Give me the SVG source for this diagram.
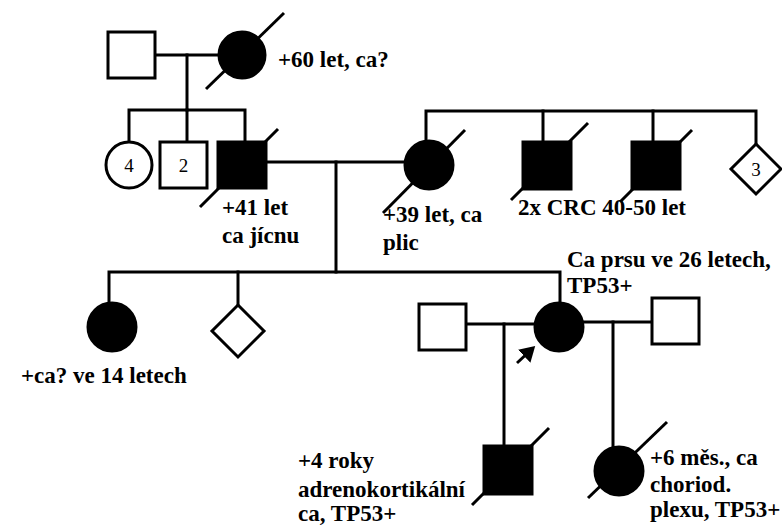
<svg xmlns="http://www.w3.org/2000/svg" width="782" height="525" viewBox="0 0 782 525">
<defs>
<style>
.n{fill:#fff;stroke:#000;stroke-width:3}
.f{fill:#000;stroke:#000;stroke-width:3}
.l{stroke:#000;stroke-width:3;fill:none;stroke-linecap:square}
.s{stroke:#000;stroke-width:3;fill:none}
.t{font-family:"Liberation Serif","Times New Roman",serif;font-weight:bold;font-size:23px;fill:#000}
.num{font-family:"Liberation Serif","Times New Roman",serif;font-size:19px;fill:#000;text-anchor:middle}
</style>
<marker id="ah" markerWidth="6" markerHeight="6" refX="4" refY="3" orient="auto" markerUnits="strokeWidth">
<path d="M0,0 L5,3 L0,6 Z" fill="#000"/>
</marker>
</defs>
<rect width="782" height="525" fill="#fff"/>
<g id="connectors">
<line class="l" x1="155" y1="55" x2="219" y2="55"/>
<line class="l" x1="187" y1="55" x2="187" y2="110"/>
<polyline class="l" points="129,142 129,110 245,110 245,142"/>
<line class="l" x1="187" y1="110" x2="187" y2="142"/>
<line class="l" x1="266" y1="162" x2="405" y2="162"/>
<polyline class="l" points="426,141 426,111 756,111 756,144"/>
<line class="l" x1="543" y1="111" x2="543" y2="142"/>
<line class="l" x1="653" y1="111" x2="653" y2="142"/>
<line class="l" x1="336" y1="162" x2="336" y2="272"/>
<polyline class="l" points="109,303 109,272 560,272 560,303"/>
<line class="l" x1="238" y1="272" x2="238" y2="305"/>
<line class="l" x1="466" y1="324" x2="535" y2="324"/>
<line class="l" x1="504" y1="324" x2="504" y2="446"/>
<line class="l" x1="583" y1="322" x2="652" y2="322"/>
<line class="l" x1="613" y1="322" x2="613" y2="447"/>
<line class="s" x1="517" y1="363" x2="533" y2="348" marker-end="url(#ah)"/>
</g>
<g id="gp-father"><rect class="n" x="108" y="32" width="47" height="46"/></g>
<g id="gp-mother">
<circle class="f" cx="242" cy="55" r="23"/>
<line class="s" x1="206" y1="89" x2="284" y2="13"/>
<text class="t" x="278" y="67">+60 let, ca?</text>
</g>
<g id="sisters4"><circle class="n" cx="129" cy="165" r="23"/><text class="num" x="129" y="172">4</text></g>
<g id="brothers2"><rect class="n" x="160" y="142" width="47" height="46"/><text class="num" x="183.5" y="172">2</text></g>
<g id="father">
<rect class="f" x="218" y="142" width="48" height="46"/>
<line class="s" x1="200" y1="207" x2="278" y2="129"/>
<text class="t" x="222" y="215">+41 let</text>
<text class="t" x="222" y="243">ca jícnu</text>
</g>
<g id="mother">
<circle class="f" cx="429" cy="165" r="24"/>
<line class="s" x1="383" y1="213" x2="465" y2="130"/>
<text class="t" x="383" y="222">+39 let, ca</text>
<text class="t" x="383" y="250">plic</text>
</g>
<g id="uncle1">
<rect class="f" x="523" y="142" width="48" height="47"/>
<line class="s" x1="511" y1="200" x2="588" y2="123"/>
</g>
<g id="uncle2">
<rect class="f" x="632" y="142" width="48" height="47"/>
<line class="s" x1="620" y1="202" x2="692" y2="130"/>
</g>
<text class="t" x="518" y="215">2x CRC 40-50 let</text>
<g id="siblings3">
<polygon class="n" points="756,144 781,169 756,194 731,169"/>
<text class="num" x="756" y="176">3</text>
</g>
<g id="sister">
<circle class="f" cx="112" cy="327" r="24"/>
<text class="t" x="21" y="383">+ca? ve 14 letech</text>
</g>
<g id="sibling-unknown"><polygon class="n" points="238,305 264,331 238,357 212,331"/></g>
<g id="husband1"><rect class="n" x="419" y="304" width="47" height="46"/></g>
<g id="proband">
<circle class="f" cx="559" cy="327" r="24"/>
<text class="t" x="567" y="267">Ca prsu ve 26 letech,</text>
<text class="t" x="567" y="293">TP53+</text>
</g>
<g id="husband2"><rect class="n" x="652" y="298" width="47" height="46"/></g>
<g id="son">
<rect class="f" x="484" y="446" width="48" height="48"/>
<line class="s" x1="472" y1="505" x2="549" y2="428"/>
<text class="t" x="298" y="468">+4 roky</text>
<text class="t" x="298" y="497">adrenokortikální</text>
<text class="t" x="298" y="521">ca, TP53+</text>
</g>
<g id="daughter">
<circle class="f" cx="619" cy="471" r="24"/>
<line class="s" x1="588" y1="498" x2="667" y2="422"/>
<text class="t" x="650" y="465">+6 měs., ca</text>
<text class="t" x="650" y="492">choriod.</text>
<text class="t" x="650" y="517">plexu, TP53+</text>
</g>
</svg>
